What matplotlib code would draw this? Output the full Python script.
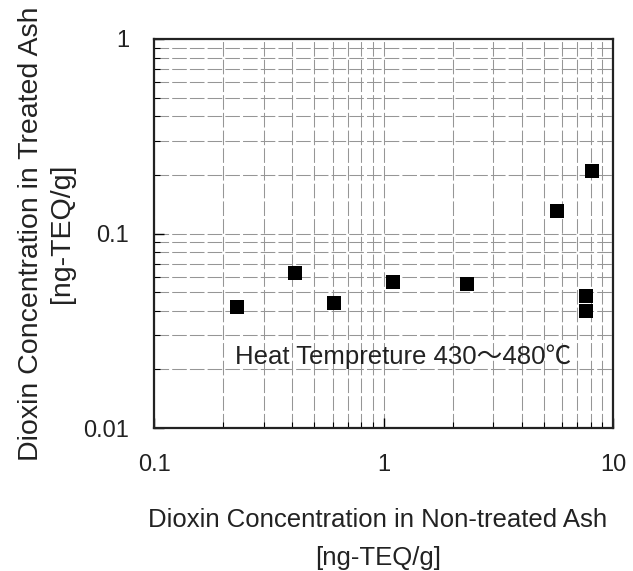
import numpy as np
import matplotlib
matplotlib.use("Agg")
import matplotlib.pyplot as plt
from matplotlib.ticker import LogLocator, NullFormatter

plt.rcParams['font.family'] = ['Liberation Sans', 'Noto Sans CJK JP', 'DejaVu Sans']

# data
non_treated = [0.23, 0.41, 0.61, 1.1, 2.3, 5.7, 8.1, 7.6, 7.6]
treated = [0.042, 0.063, 0.044, 0.056, 0.055, 0.13, 0.21, 0.048, 0.040]

x_ticks = [0.1, 1, 10]
x_tick_labels = ["0.1", "1", "10"]
y_ticks = [0.01, 0.1, 1]
y_tick_labels = ["0.01", "0.1", "1"]

fig = plt.figure(figsize=(6.33, 5.71), dpi=100)
ax = fig.add_axes([0.2433, 0.2504, 0.7251, 0.6813])

ax.set_xscale('log')
ax.set_yscale('log')
ax.set_xlim(0.1, 10)
ax.set_ylim(0.01, 1)

# graph-paper grid
ax.grid(True, which='both', color='#969696', linewidth=0.75, linestyle=(0, (14, 3)))
ax.set_axisbelow(True)

ax.scatter(non_treated, treated, marker='s', s=110, color='black', zorder=3, linewidths=0)

ax.set_xticks(x_ticks)
ax.set_xticklabels(x_tick_labels)
ax.set_yticks(y_ticks)
ax.set_yticklabels(y_tick_labels)
ax.xaxis.set_minor_locator(LogLocator(base=10, subs=np.arange(2, 10)))
ax.yaxis.set_minor_locator(LogLocator(base=10, subs=np.arange(2, 10)))
ax.xaxis.set_minor_formatter(NullFormatter())
ax.yaxis.set_minor_formatter(NullFormatter())

ax.tick_params(which='major', direction='in', length=7, width=1, labelsize=17,
               pad=18, labelcolor='#222222')
ax.tick_params(which='minor', direction='in', length=4, width=0.8)
ax.tick_params(axis='x', which='major', pad=19)

for sp in ax.spines.values():
    sp.set_linewidth(1.6)
    sp.set_color('#222222')

ax.set_xlabel("Dioxin Concentration in Non-treated Ash\n[ng-TEQ/g]",
              fontsize=18.5, linespacing=1.72, color='#222222', va='center')
ax.xaxis.set_label_coords(0.488, -0.285)
ax.set_ylabel("Dioxin Concentration in Treated Ash\n[ng-TEQ/g]",
              fontsize=20.5, linespacing=1.25, color='#222222', va='center')
ax.yaxis.set_label_coords(-0.234, 0.5)

ax.text(0.176, 0.1825, "Heat Tempreture 430～480℃", transform=ax.transAxes,
        fontsize=18.5, ha='left', va='center', color='#222222')

fig.savefig("out.png", dpi=100)
